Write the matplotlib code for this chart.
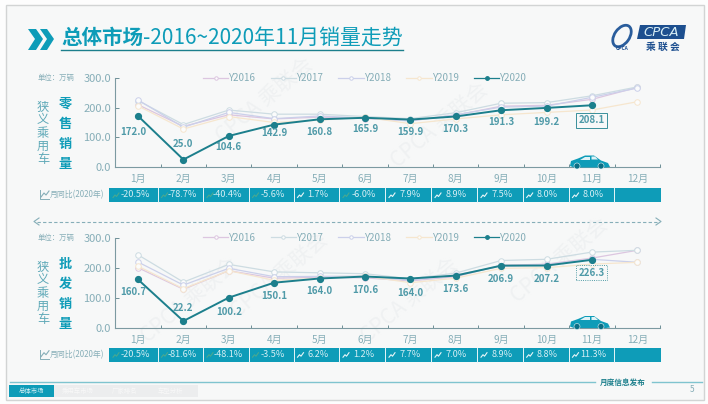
import matplotlib
matplotlib.use("Agg")
import matplotlib.pyplot as plt
from matplotlib.patches import Rectangle, Polygon, Ellipse

plt.rcParams['font.family'] = ['Noto Sans CJK SC', 'DejaVu Sans']

months = ['1月','2月','3月','4月','5月','6月','7月','8月','9月','10月','11月','12月']
series_names = ['Y2016','Y2017','Y2018','Y2019','Y2020']

retail_2016 = [210,137,176,162,168,163,156,175,205,208,228,268]
retail_2017 = [224,143,192,178,178,170,163,183,215,217,240,270]
retail_2018 = [226,134,184,163,172,165,155,176,202,205,235,266]
retail_2019 = [206,128,170,150,158,168,146,162,176,184,192,220]
retail_2020 = [172.0,25.0,104.6,142.9,160.8,165.9,159.9,170.3,191.3,199.2,208.1]
retail_yoy = ['-20.5%','-78.7%','-40.4%','-5.6%','1.7%','-6.0%','7.9%','8.9%','7.5%','8.0%','8.0%','']

whole_2016 = [200,128,190,165,168,166,156,170,208,212,232,258]
whole_2017 = [243,152,211,186,183,180,163,182,224,228,252,258]
whole_2018 = [219,142,198,170,171,172,158,176,205,210,228,218]
whole_2019 = [205,130,190,158,165,172,150,165,198,200,212,218]
whole_2020 = [160.7,22.2,100.2,150.1,164.0,170.6,164.0,173.6,206.9,207.2,226.3]
whole_yoy = ['-20.5%','-81.6%','-48.1%','-3.5%','6.2%','1.2%','7.7%','7.0%','8.9%','8.8%','11.3%','']

W, H = 708, 404
TEAL = '#0e9cb8'
DARK = '#1c7f8c'
GREY = '#86aeb8'
colors = ['#dcc6e0','#cddcE2','#cbd0ea','#f6e6ce',DARK]
cell_edges = [109,157.5,203,248.5,293.5,339,385,431,477,522.7,568.5,613.5,661]
# pixel gap between a point and its label (negative = label above the point)
retail_gap = [16,-16,11,8,13,11.5,12.5,13,12,14,15]
whole_gap = [13,-13,14,13,13,13,14,13,13,13,13]

fig = plt.figure(figsize=(W/100, H/100), dpi=100, facecolor='#fdfdfd')
bg = fig.add_axes([0,0,1,1], zorder=0)
bg.set_xlim(0,W); bg.set_ylim(H,0); bg.axis('off')
bg.add_patch(Rectangle((6,5),698,395,fc='#f7f8f8',ec='#d2d4d4',lw=1))

# Title
bg.add_patch(Polygon([(28,29),(36,29),(43,39),(36,50),(28,50),(35,39)],fc=TEAL,ec='none'))
bg.add_patch(Polygon([(40,29),(47,29),(54,39),(47,50),(40,50),(47,39)],fc=TEAL,ec='none'))
bg.text(61,38,'总体市场',color=TEAL,fontsize=14.8,fontweight='bold',va='center',ha='left')
bg.text(143,38,'-2016~2020年11月销量走势',color=TEAL,fontsize=15,va='center',ha='left')
bg.plot([61,403],[49.5,49.5],color=DARK,lw=1)

# Logo
bg.add_patch(Ellipse((622,36),15,24,angle=35,fc='none',ec='#2a5d9c',lw=2))
bg.text(616,48.5,'CPCA',color='#1d4f8f',fontsize=3.5,fontweight='bold',ha='left',va='center')
bg.add_patch(Polygon([(640,25),(686,25),(684,39),(637,39)],fc='#1d4f8f',ec='none'))
bg.text(661.5,33,'CPCA',color='#d8eef5',fontsize=9.5,style='italic',ha='center',va='center',family='DejaVu Sans')
bg.text(663,47,'乘 联 会',color='#1d4f8f',fontsize=7,fontweight='bold',ha='center',va='center')

# Watermarks
for (x,y) in [(265,100),(440,125),(190,300),(280,275),(410,300),(560,260)]:
    bg.text(x,y,'CPCA 乘联会',color='#eff1f2',fontsize=15,rotation=40,ha='center',va='center')

# Divider
bg.plot([37,658],[221.5,221.5],color=GREY,lw=.8,ls=(0,(3,2)))
bg.plot([39,34,39],[218,221.5,225],color=GREY,lw=.8)
bg.plot([656,661,656],[218,221.5,225],color=GREY,lw=.8)

# Footer
bg.plot([10,595],[382,382],color='#7fc4cf',lw=1)
bg.plot([652,702],[382,382],color='#7fc4cf',lw=1)
bg.text(623,382,'月度信息发布',color=DARK,fontsize=5.5,style='italic',fontweight='bold',ha='center',va='center')
bg.add_patch(Rectangle((9,385),45,11.5,fc=TEAL,ec='none'))
bg.add_patch(Rectangle((54,385),144,11.5,fc='#ecedee',ec='none'))
bg.text(31.5,391,'总体市场',color='#d8f0f5',fontsize=4.6,ha='center',va='center')
for x,t in zip([78,125,170],['乘用车市场','厂家排名','车型分析']):
    bg.text(x,391,t,color='#f8f8f8',fontsize=4.6,ha='center',va='center')
bg.text(692,389.5,'5',color=GREY,fontsize=6,ha='center',va='center')

bg_top = fig.add_axes([0,0,1,1], zorder=3)
bg_top.set_xlim(0,W); bg_top.set_ylim(H,0); bg_top.axis('off'); bg_top.patch.set_alpha(0)

def car(x0,y0):
    bg_top.add_patch(Polygon([(x0,y0-1),(x0+1,y0-6),(x0+8,y0-8.5),(x0+15,y0-11.5),(x0+24,y0-11.5),(x0+31,y0-6.5),
                              (x0+38,y0-4),(x0+40,y0),(x0+36,y0+.5),(x0+4,y0+.5)],fc=TEAL,ec='none'))
    bg_top.add_patch(Polygon([(x0+15,y0-10.5),(x0+20,y0-10.5),(x0+20,y0-7.5),(x0+10,y0-7.5)],fc='#dff2f6',ec='none'))
    bg_top.add_patch(Polygon([(x0+21.5,y0-10.5),(x0+25,y0-10.5),(x0+28,y0-7.5),(x0+21.5,y0-7.5)],fc='#dff2f6',ec='none'))
    for dx in (7,31):
        bg_top.add_patch(Ellipse((x0+dx,y0-1),6,6,fc='#0b6f86',ec='#dff2f6',lw=.4))

def panel(y0, y300, data, latest, yoy, word, cell_top, box_style, y_side, gaps):
    ax = fig.add_axes([115.3/W, 1-y0/H, (660-115.3)/W, (y0-y300)/H], zorder=2)
    ax.patch.set_alpha(0)
    xs = list(range(12))
    for name,vals,c in zip(series_names[:4],data,colors):
        ax.plot(xs,vals,color=c,lw=.9,marker='o',ms=4,mfc='#fbfcfc',mec=c,mew=.7,label=name,zorder=2)
    ax.plot(xs[:len(latest)],latest,color=DARK,lw=1.4,marker='o',ms=4.2,mfc=DARK,mec=DARK,
            label=series_names[4],zorder=4)
    ax.set_xlim(-.5,11.5); ax.set_ylim(0,300)
    ax.set_yticks([0,100,200,300]); ax.set_yticklabels(['0.0','100.0','200.0','300.0'])
    ax.set_xticks(xs); ax.set_xticklabels(months)
    ax.set_xticks([i-.5 for i in range(13)],minor=True)
    ax.tick_params(axis='x',which='major',length=0,labelsize=7.2,labelcolor=GREY,pad=5)
    ax.tick_params(axis='x',which='minor',length=2.5,direction='in',color='#6d8f96',width=.7)
    ax.tick_params(axis='y',length=3,direction='in',color='#6d8f96',width=.7,labelsize=8,labelcolor=GREY,pad=3)
    for s in ('top','right'):
        ax.spines[s].set_visible(False)
    for s in ('left','bottom'):
        ax.spines[s].set_color('#7c9aa1'); ax.spines[s].set_linewidth(.8)
    for i,v in enumerate(latest):
        kw = {}
        if i==10:
            kw['bbox']=dict(boxstyle='square,pad=0.25',fc='none',ec=DARK,lw=.6,ls=box_style)
        dx = -3.5 if i==0 else 0
        ax.annotate(f'{v:.1f}',(i,v),xytext=(dx,-gaps[i]*.72),textcoords='offset points',ha='center',va='center',
                    fontsize=7,color='#4f9aa8',fontweight='bold',zorder=6,**kw)
    leg = ax.legend(ncol=5,loc='center',frameon=False,fontsize=7,labelcolor=GREY,
                    handlelength=2.6,columnspacing=1.6,handletextpad=0,borderpad=0)
    leg.set_bbox_to_anchor((364.5/W,1-y300/H),transform=fig.transFigure)
    for h in leg.legend_handles:
        h.set_markersize(2.5)
        h.set_linewidth(.9)
    bg.text(56,y300,'单位：万辆',color=GREY,fontsize=5.3,ha='center',va='center')
    for k,ch in enumerate('狭义乘用车'):
        bg.text(43,y_side+3+k*13,ch,color='#5fa9b8',fontsize=8.8,ha='center',va='center')
    for k,ch in enumerate(word):
        bg.text(65,y_side+k*20,ch,color=TEAL,fontsize=9.5,fontweight='bold',ha='center',va='center')
    bg.add_patch(Rectangle((109,cell_top),552,14,fc=TEAL,ec='none',zorder=2))
    for i,t in enumerate(yoy):
        l,r = cell_edges[i],cell_edges[i+1]
        if i:
            bg.plot([l,l],[cell_top,cell_top+14],color='#e8f6f8',lw=.7,zorder=3)
        if t:
            neg = t.startswith('-')
            c = '#4aa88f' if neg else '#e8f6f8'
            bg.plot([l+4,l+6,l+7.5,l+10],[cell_top+9.5,cell_top+7,cell_top+8.5,cell_top+5],color=c,lw=.8,zorder=3)
            bg.text((l+r)/2+2,cell_top+6.5,t,color='#d4eef4',fontsize=6.6,ha='center',va='center',zorder=3)
    bg.text(77,cell_top+7,'月同比(2020年)',color=GREY,fontsize=5.7,ha='center',va='center')
    bg.plot([40,40,49],[cell_top+2,cell_top+11,cell_top+11],color=GREY,lw=.7)
    bg.plot([41,44,46,49],[cell_top+9,cell_top+5,cell_top+7,cell_top+3],color=GREY,lw=.8)
    return ax

panel(167,78,[retail_2016,retail_2017,retail_2018,retail_2019],retail_2020,retail_yoy,'零售销量',188,'-',104,retail_gap)
panel(327.7,237.7,[whole_2016,whole_2017,whole_2018,whole_2019],whole_2020,whole_yoy,'批发销量',347.7,':',264,whole_gap)
car(570,167)
car(570,327.5)

fig.savefig('out.png',dpi=100,facecolor=fig.get_facecolor())
